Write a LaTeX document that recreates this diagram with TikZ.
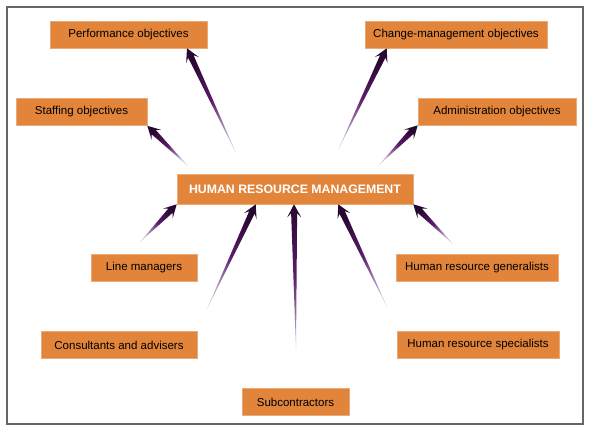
\documentclass[tikz,border=0pt]{standalone}
\usepackage{fontspec}
\setmainfont{Liberation Sans}
\usetikzlibrary{calc,positioning}

\definecolor{hrorange}{RGB}{226,132,58}
\definecolor{hrdark}{RGB}{40,8,48}
\definecolor{hrpurple}{RGB}{92,28,108}
\definecolor{hrlight}{RGB}{205,192,214}

\tikzset{
  box/.style={fill=hrorange,draw=hrorange!70!white,line width=0.6pt,
    minimum height=27pt,inner sep=0pt,font=\fontsize{11.5}{13}\selectfont},
  hrmbox/.style={box,minimum height=30pt,text=white,
    font=\fontsize{12.3}{14}\selectfont\bfseries}
}

% tapering arrow from a tail point to a tip point
\newcommand{\hrarrow}[2]{%
  \coordinate (hrbarb) at ($(#2)!13pt!(#1)$);
  \coordinate (hrnotch) at ($(#2)!9pt!(#1)$);
  \path let \p1=($(#2)-(#1)$) in \pgfextra{\pgfmathsetmacro\hrang{atan2(\y1,\x1)-90}\global\let\hrang\hrang};
  \shade[top color=hrdark,bottom color=hrlight,middle color=hrpurple,shading angle=\hrang]
    (#1) -- ($(hrnotch)!3pt!-90:(#2)$) -- ($(hrbarb)!7pt!-90:(#2)$) -- (#2)
    -- ($(hrbarb)!7pt!90:(#2)$) -- ($(hrnotch)!3pt!90:(#2)$) -- cycle;
}

\begin{document}
\begin{tikzpicture}[x=1pt,y=-1pt]
  \useasboundingbox (0,0) rectangle (589,430);
  \draw[gray!80!black,line width=1.8pt] (7,7) rectangle (583,424);

  % objectives
  \node[box,minimum width=157pt] (perf)   at (128.5,34.5) {Performance objectives};
  \node[box,minimum width=131pt] (staff)  at (81.5,112)   {Staffing objectives};
  \node[box,minimum width=182pt] (change) at (456,34.5)   {Change-management objectives};
  \node[box,minimum width=158pt] (admin)  at (497,111.5)  {Administration objectives};

  % centre
  \node[hrmbox,minimum width=236pt] (hrm) at (295,189) {HUMAN RESOURCE MANAGEMENT};

  % contributors
  \node[box,minimum width=106pt] (line) at (144,267.5) {Line managers};
  \node[box,minimum width=156pt] (cons) at (119,345)   {Consultants and advisers};
  \node[box,minimum width=107pt] (sub)  at (295.5,402) {Subcontractors};
  \node[box,minimum width=162pt] (gen)  at (477,267.5) {Human resource generalists};
  \node[box,minimum width=162pt] (spec) at (478,345)   {Human resource specialists};

  % tails
  \coordinate (perf-t)   at (236,153);
  \coordinate (staff-t)  at (188,166);
  \coordinate (change-t) at (338,150);
  \coordinate (admin-t)  at (379,165);
  \coordinate (line-t)   at (140,242);
  \coordinate (cons-t)   at (207,309);
  \coordinate (sub-t)    at (296,349);
  \coordinate (gen-t)    at (453,244);
  \coordinate (spec-t)   at (387,307);

  % heads
  \coordinate (perf-h)   at ($(perf.south)+(58.5,0)$);
  \coordinate (staff-h)  at (staff.south east);
  \coordinate (change-h) at ($(change.south west)+(22,0)$);
  \coordinate (admin-h)  at (admin.south west);
  \coordinate (line-h)   at (hrm.south west);
  \coordinate (cons-h)   at ($(hrm.south west)+(79,0)$);
  \coordinate (sub-h)    at ($(hrm.south)+(-1,0)$);
  \coordinate (gen-h)    at (hrm.south east);
  \coordinate (spec-h)   at ($(hrm.south east)+(-75,0)$);

  \hrarrow{perf-t}{perf-h}
  \hrarrow{staff-t}{staff-h}
  \hrarrow{change-t}{change-h}
  \hrarrow{admin-t}{admin-h}
  \hrarrow{line-t}{line-h}
  \hrarrow{cons-t}{cons-h}
  \hrarrow{sub-t}{sub-h}
  \hrarrow{gen-t}{gen-h}
  \hrarrow{spec-t}{spec-h}
\end{tikzpicture}
\end{document}
